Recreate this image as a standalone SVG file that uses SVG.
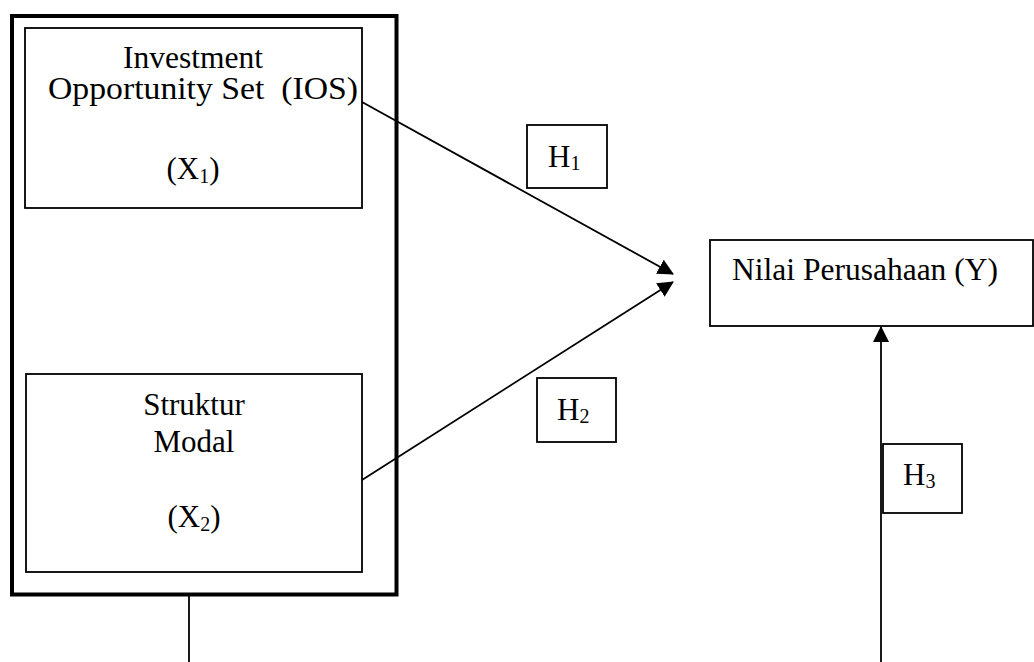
<svg xmlns="http://www.w3.org/2000/svg" width="1034" height="662" viewBox="0 0 1034 662">
<defs>
<style>
.box{fill:#fff;stroke:#000;stroke-width:1.8}
.outer{fill:none;stroke:#000;stroke-width:4}
.t{font-family:"Liberation Serif","Times New Roman",serif;font-size:31px;fill:#000}
.c{text-anchor:middle}
.sub{font-size:20px}
.con{stroke:#000;stroke-width:1.8;fill:none}
</style>
<marker id="arr" markerUnits="userSpaceOnUse" markerWidth="16" markerHeight="16" viewBox="0 0 16 16" refX="15" refY="8" orient="auto">
<path d="M0,0 L16,8 L0,16 Z" fill="#000"/>
</marker>
</defs>
<rect x="0" y="0" width="1034" height="662" fill="#fff"/>
<g id="group-x">
<rect class="outer" x="12" y="16" width="384.5" height="578.5"/>
</g>
<g id="node-x1">
<rect class="box" x="25" y="28" width="337" height="180"/>
<text class="t" x="123" y="68" textLength="140" lengthAdjust="spacingAndGlyphs">Investment</text>
<text class="t" x="48" y="99" xml:space="preserve" textLength="310" lengthAdjust="spacingAndGlyphs">Opportunity Set  (IOS)</text>
<text class="t c" x="193" y="179">(X<tspan class="sub" dy="4">1</tspan><tspan dy="-4">)</tspan></text>
</g>
<g id="node-x2">
<rect class="box" x="26" y="374" width="336" height="198"/>
<text class="t c" x="194" y="415">Struktur</text>
<text class="t c" x="194" y="452">Modal</text>
<text class="t c" x="194" y="527">(X<tspan class="sub" dy="4">2</tspan><tspan dy="-4">)</tspan></text>
</g>
<g id="node-y">
<rect class="box" x="710" y="240" width="323" height="86"/>
<text class="t" x="732" y="280" textLength="266" lengthAdjust="spacingAndGlyphs">Nilai Perusahaan (Y)</text>
</g>
<g id="connectors">
<line class="con" x1="362" y1="102" x2="673" y2="274" marker-end="url(#arr)"/>
<line class="con" x1="362" y1="480" x2="673" y2="282" marker-end="url(#arr)"/>
<line class="con" x1="189" y1="596" x2="189" y2="662"/>
<line class="con" x1="881" y1="662" x2="881" y2="327" marker-end="url(#arr)"/>
</g>
<g id="label-h1">
<rect class="box" x="527" y="125" width="80" height="63"/>
<text class="t" x="548" y="167">H<tspan class="sub" dy="3">1</tspan></text>
</g>
<g id="label-h2">
<rect class="box" x="537" y="378" width="79" height="64"/>
<text class="t" x="557" y="420">H<tspan class="sub" dy="3">2</tspan></text>
</g>
<g id="label-h3">
<rect class="box" x="883" y="444" width="79" height="69"/>
<text class="t" x="903" y="485">H<tspan class="sub" dy="3">3</tspan></text>
</g>
</svg>
